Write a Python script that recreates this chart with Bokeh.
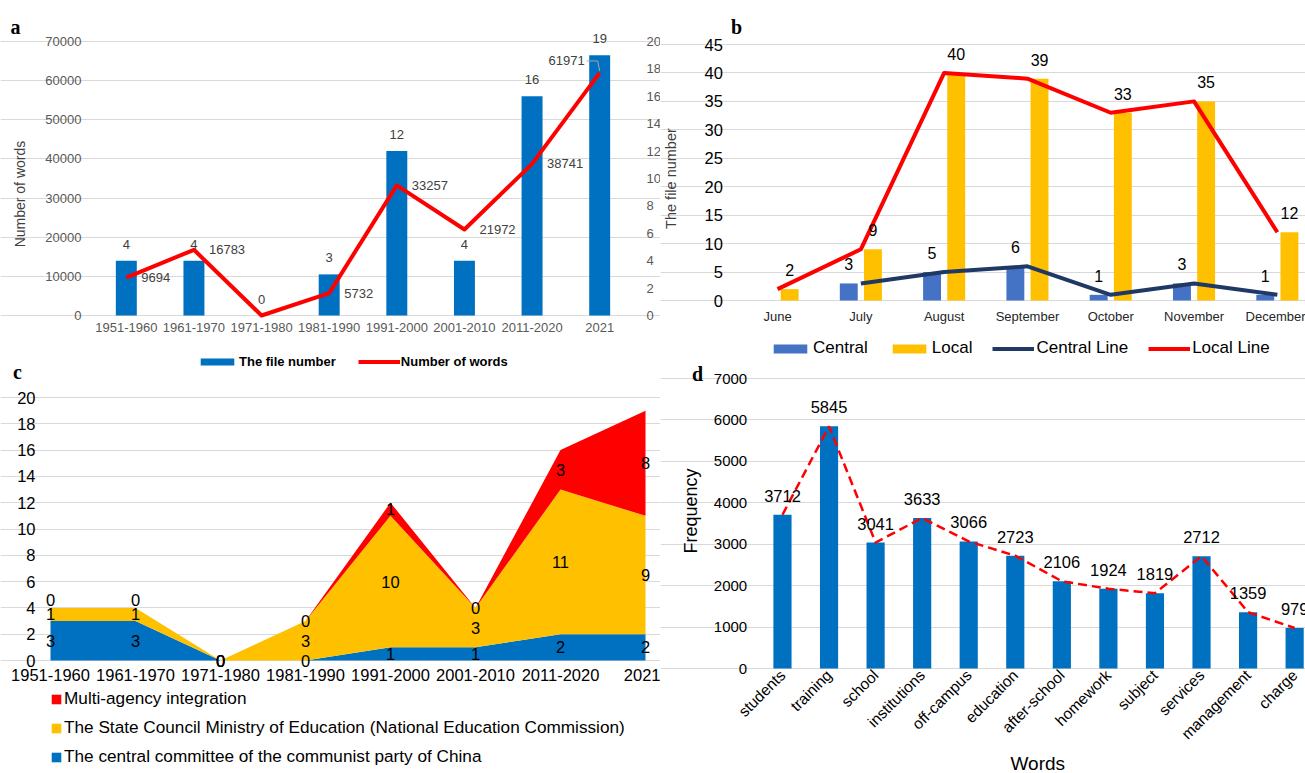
import math

import numpy as np
from bokeh.core.properties import value
from bokeh.embed import file_html
from bokeh.layouts import column, row
from bokeh.models import (ColumnDataSource, FixedTicker, Label, LabelSet, Legend,
                          LegendItem, LinearAxis, Range1d)
from bokeh.plotting import figure
from bokeh.resources import INLINE

# ---------------- data ----------------
decades = ["1951-1960", "1961-1970", "1971-1980", "1981-1990",
           "1991-2000", "2001-2010", "2011-2020", "2021"]
file_numbers = [4, 4, 0, 3, 12, 4, 16, 19]
word_counts = [9694, 16783, 0, 5732, 33257, 21972, 38741, 61971]

months = ["June", "July", "August", "September", "October", "November", "December"]
central_files = [None, 3, 5, 6, 1, 3, 1]
local_files = [2, 9, 40, 39, 33, 35, 12]

issuers = ["The central committee of the communist party of China",
           "The State Council Ministry of Education (National Education Commission)",
           "Multi-agency integration"]
central_committee = [3, 3, 0, 0, 1, 1, 2, 2]
state_council_moe = [1, 1, 0, 3, 10, 3, 11, 9]
multi_agency = [0, 0, 0, 0, 1, 0, 3, 8]

words = ["students", "training", "school", "institutions", "off-campus", "education",
         "after-school", "homework", "subject", "services", "management", "charge"]
frequency = [3712, 5845, 3041, 3633, 3066, 2723, 2106, 1924, 1819, 2712, 1359, 979]

# ---------------- style ----------------
SANS = "Liberation Sans"
SERIF = "Liberation Serif"
GRID = "#D9D9D9"
BLUE = "#0070C0"
RED = "#FF0000"
YELLOW = "#FFC000"
CENTRAL_BLUE = "#4472C4"
NAVY = "#203864"
NBSP = "\u00a0"


def span_x(px1, v1, px2, v2, width):
    """Range covering the full canvas width, from two pixel->value anchors."""
    s = (v2 - v1) / (px2 - px1)
    return Range1d(v1 - px1 * s, v1 + (width - px1) * s)


def span_y(py1, v1, py2, v2, height):
    """Range covering the full canvas height; pixels measured from the top."""
    s = (v2 - v1) / (py1 - py2)
    return Range1d(v1 - (height - py1) * s, v1 + py1 * s)


def new_panel(width, height, x_range, y_range):
    # The plotting frame fills the whole canvas; the axes sit at fixed
    # data positions inside it, so every label stays inside the frame.
    p = figure(width=width, height=height, x_range=x_range, y_range=y_range,
               output_backend="svg", toolbar_location=None,
               min_border_left=0, min_border_right=0, min_border_top=0, min_border_bottom=0)
    p.outline_line_color = None
    return p


def style_axes(p, color, size):
    p.xgrid.grid_line_color = None
    p.ygrid.grid_line_color = GRID
    p.ygrid.grid_line_width = 1
    for ax in p.axis:
        ax.axis_line_color = None
        ax.major_tick_line_color = None
        ax.minor_tick_line_color = None
        ax.major_tick_out = 0
        ax.major_tick_in = 0
        ax.minor_tick_out = 0
        ax.minor_tick_in = 0
        ax.major_label_text_font = SANS
        ax.major_label_text_font_size = size
        ax.major_label_text_color = color
        ax.axis_label_text_font = SANS
        ax.axis_label_text_font_style = "normal"


def panel_letter(p, text, x, y):
    p.add_layout(Label(x=x, y=y, x_units="screen", y_units="screen", text=text,
                       text_font=SERIF, text_font_style="bold", text_font_size="20px",
                       text_align="center", text_baseline="alphabetic", text_color="black"))


def add_legend(p, items, location, size, bold=False, orientation="horizontal",
               glyph_w=42, glyph_h=9, spacing=20, standoff=2):
    leg = Legend(items=items, location=location, orientation=orientation,
                 label_text_font=SANS, label_text_font_size=size,
                 label_text_font_style="bold" if bold else "normal",
                 label_text_color="black", glyph_width=glyph_w, glyph_height=glyph_h,
                 label_standoff=standoff, spacing=spacing, padding=0, margin=0,
                 label_height=20, border_line_color=None, background_fill_alpha=0)
    p.add_layout(leg, "center")
    return leg


# ---------------- panel a: files and words per decade ----------------
W_A, H_A = 660, 384
n_dec = len(decades)
xa = list(range(n_dec))
src_a = ColumnDataSource(dict(x=xa, files=file_numbers, words=word_counts,
                              flab=[str(v) for v in file_numbers]))

pa = new_panel(W_A, H_A, span_x(92, -0.5, 633, n_dec - 0.5, W_A),
               span_y(315, 0, 41, 70000, H_A))
pa.extra_y_ranges = {"files": span_y(315, 0, 41, 20, H_A)}
pa.add_layout(LinearAxis(y_range_name="files", ticker=FixedTicker(ticks=list(range(0, 21, 2)))), "right")
pa.yaxis[0].ticker = FixedTicker(ticks=list(range(0, 70001, 10000)))
pa.xaxis.ticker = FixedTicker(ticks=xa)
pa.xaxis.major_label_overrides = {i: d for i, d in enumerate(decades)}
style_axes(pa, "#595959", "13px")
pa.ygrid.bounds = (-0.5, n_dec - 0.5)
pa.xaxis.fixed_location = 0
pa.xaxis.bounds = (-0.5, n_dec - 0.5)
pa.yaxis[0].fixed_location = -0.5
pa.yaxis[0].bounds = (0, 70000)
pa.yaxis[1].fixed_location = n_dec - 0.5
pa.yaxis[1].bounds = (0, 20)
pa.xaxis.major_label_standoff = 7
pa.yaxis[0].major_label_standoff = 11
pa.yaxis[1].major_label_standoff = 13
pa.yaxis[0].axis_label = "Number of words" + NBSP * 8
pa.yaxis[0].axis_label_text_font_size = "14px"
pa.yaxis[0].axis_label_text_color = "#404040"
pa.yaxis[0].axis_label_standoff = 14

bars_a = pa.vbar(x="x", top="files", width=0.31, source=src_a, y_range_name="files",
                 fill_color=BLUE, line_color=None)
line_a = pa.line(x="x", y="words", source=src_a, line_color=RED, line_width=4,
                 line_join="round")

pa.add_layout(LabelSet(x="x", y="files", text="flab", source=src_a, y_range_name="files",
                       y_offset=12, text_align="center", text_baseline="alphabetic",
                       text_font=value(SANS), text_font_size="13px", text_color="#404040"))

# word-count labels sit right of their points; the zero shares the file label's spot
word_label_side = {"1971-1980": "shared", "2021": "left"}
for i, (dec, v) in enumerate(zip(decades, word_counts)):
    side = word_label_side.get(dec, "right")
    if side == "shared":
        continue
    kw = dict(x=i, y=v, text=str(v), text_font=SANS, text_font_size="13px",
              text_color="#404040")
    if side == "right":
        lab = Label(x_offset=15, text_align="left", text_baseline="middle", **kw)
    else:
        lab = Label(x_offset=-15, y_offset=12, text_align="right", text_baseline="middle", **kw)
    pa.add_layout(lab)

# leader from the last word label down to its point
last = n_dec - 1
y_per_px = 70000 / 274
pa.line(x=[last - 13 / 67.6, last - 2 / 67.6, last],
        y=[word_counts[last] + 12 * y_per_px, word_counts[last] + 12 * y_per_px,
           word_counts[last] + 2 * y_per_px],
        line_color="#A6A6A6", line_width=1)

add_legend(pa, [LegendItem(label="The file number", renderers=[bars_a]),
                LegendItem(label="Number of words", renderers=[line_a])],
           (196, H_A - 371), "13px", bold=True, glyph_w=42, glyph_h=9, spacing=22, standoff=1)
panel_letter(pa, "a", 15, H_A - 26)
panel_letter(pa, "c", 17, H_A - 371)

# ---------------- panel b: monthly central / local files ----------------
W_B, H_B = 645, 360
n_mon = len(months)
xb = list(range(n_mon))
shift = 0.145
cen_idx = [i for i, v in enumerate(central_files) if v is not None]
src_bc = ColumnDataSource(dict(x=[i - shift for i in cen_idx], xc=cen_idx,
                               v=[central_files[i] for i in cen_idx],
                               lab=[str(central_files[i]) for i in cen_idx]))
src_bl = ColumnDataSource(dict(x=[i + shift for i in xb], xc=xb, v=local_files,
                               lab=[str(v) for v in local_files]))

pb = new_panel(W_B, H_B, span_x(75.4, -0.5, 75.4 + 7 * 83.3, 6.5, W_B),
               span_y(300, 0, 44, 45, H_B))
pb.yaxis.ticker = FixedTicker(ticks=list(range(0, 46, 5)))
pb.xaxis.ticker = FixedTicker(ticks=xb)
pb.xaxis.major_label_overrides = {i: m for i, m in enumerate(months)}
style_axes(pb, "black", "16.5px")
pb.ygrid.bounds = (-0.5, n_mon - 0.5)
pb.xaxis.fixed_location = 0
pb.xaxis.bounds = (-0.5, n_mon - 0.5)
pb.yaxis.fixed_location = -0.5
pb.yaxis.bounds = (0, 45)
pb.xaxis.major_label_text_font_size = "13px"
pb.xaxis.major_label_text_color = "#262626"
pb.xaxis.major_label_standoff = 8
pb.yaxis.major_label_standoff = 13
pb.yaxis.axis_label = "The file number" + NBSP * 3
pb.yaxis.axis_label_text_font_size = "14.5px"
pb.yaxis.axis_label_text_color = "#404040"
pb.yaxis.axis_label_standoff = 22

bars_bc = pb.vbar(x="x", top="v", width=0.215, source=src_bc, fill_color=CENTRAL_BLUE, line_color=None)
bars_bl = pb.vbar(x="x", top="v", width=0.215, source=src_bl, fill_color=YELLOW, line_color=None)
line_bc = pb.line(x="xc", y="v", source=src_bc, line_color=NAVY, line_width=4, line_join="round")
line_bl = pb.line(x="xc", y="v", source=src_bl, line_color=RED, line_width=4, line_join="round")
for src in (src_bc, src_bl):
    pb.add_layout(LabelSet(x="x", y="v", text="lab", source=src, y_offset=13,
                           text_align="center", text_baseline="alphabetic",
                           text_font=value(SANS), text_font_size="16px", text_color="black"))

add_legend(pb, [LegendItem(label="Central", renderers=[bars_bc]),
                LegendItem(label="Local", renderers=[bars_bl]),
                LegendItem(label="Central Line", renderers=[line_bc]),
                LegendItem(label="Local Line", renderers=[line_bl])],
           (109, H_B - 358), "17px", glyph_w=42, glyph_h=11, spacing=20, standoff=2)
panel_letter(pb, "b", 76, H_B - 26)

# ---------------- panel c: stacked areas by issuing body ----------------
TOP_C = H_A
W_C, H_C = 660, 773 - H_A
xc = list(range(n_dec))
src_c = ColumnDataSource(dict(x=xc, central=central_committee, state=state_council_moe,
                              multi=multi_agency))

px_per_unit_c = (660 - 397) / 20
pc = new_panel(W_C, H_C, span_x(50, 0, 645, n_dec - 1, W_C),
               span_y(660 - TOP_C, 0, 397 - TOP_C, 20, H_C))
pc.yaxis.ticker = FixedTicker(ticks=list(range(0, 21, 2)))
pc.xaxis.ticker = FixedTicker(ticks=xc)
pc.xaxis.major_label_overrides = {i: d for i, d in enumerate(decades)}
style_axes(pc, "black", "16.5px")
pc.ygrid.bounds = (0, n_dec - 1)
pc.xaxis.fixed_location = 0
pc.xaxis.bounds = (0, n_dec - 1)
pc.yaxis.fixed_location = 0
pc.yaxis.bounds = (0, 20)
pc.xaxis.major_label_standoff = 8
pc.yaxis.major_label_standoff = 15

areas = pc.varea_stack(stackers=["central", "state", "multi"], x="x",
                       color=[BLUE, YELLOW, RED], source=src_c)

# one label per layer, centred in its band; an empty band sitting right on top
# of a thin one gets nudged up so the two numbers do not collide
base = np.zeros(n_dec)
prev_mid = None
prev_vals = None
lab_x, lab_y, lab_t, lab_dy = [], [], [], []
for vals in (central_committee, state_council_moe, multi_agency):
    arr = np.array(vals, dtype=float)
    mid = base + arr / 2
    for i in range(n_dec):
        dy = 0
        if prev_mid is not None and arr[i] == 0 and prev_vals[i] != 0:
            gap = (mid[i] - prev_mid[i]) * px_per_unit_c
            if gap < 10:
                dy = 8
        lab_x.append(xc[i])
        lab_y.append(mid[i])
        lab_t.append(str(vals[i]))
        lab_dy.append(dy)
    prev_mid, prev_vals = mid, arr
    base = base + arr
src_clab = ColumnDataSource(dict(x=lab_x, y=lab_y, t=lab_t, dy=lab_dy))
pc.add_layout(LabelSet(x="x", y="y", text="t", y_offset="dy", source=src_clab,
                       text_align="center", text_baseline="middle", text_font=value(SANS),
                       text_font_size="16.5px", text_color="black"))

add_legend(pc, [LegendItem(label=issuers[2], renderers=[areas[2]]),
                LegendItem(label=issuers[1], renderers=[areas[1]]),
                LegendItem(label=issuers[0], renderers=[areas[0]])],
           (50, 773 - 767), "17.2px", orientation="vertical", glyph_w=12, glyph_h=12,
           spacing=8, standoff=2)

# ---------------- panel d: word frequency ----------------
TOP_D = H_B
W_D, H_D = 645, 773 - H_B
n_w = len(words)
xd = list(range(n_w))
src_d = ColumnDataSource(dict(x=xd, f=frequency, lab=[str(v) for v in frequency]))

pdf = new_panel(W_D, H_D, span_x(98.7, -0.5, 98.7 + 12 * 46.56, 11.5, W_D),
                span_y(668 - TOP_D, 0, 378 - TOP_D, 7000, H_D))
pdf.yaxis.ticker = FixedTicker(ticks=list(range(0, 7001, 1000)))
pdf.xaxis.ticker = FixedTicker(ticks=xd)
pdf.xaxis.major_label_overrides = {i: w for i, w in enumerate(words)}
style_axes(pdf, "black", "15px")
pdf.ygrid.bounds = (-0.5, n_w - 0.5)
pdf.xaxis.fixed_location = 0
pdf.xaxis.bounds = (-0.5, n_w - 0.5)
pdf.yaxis.fixed_location = -0.5
pdf.yaxis.bounds = (0, 7000)
pdf.xaxis.major_label_text_font_size = "15.5px"
pdf.xaxis.major_label_orientation = math.pi / 4
pdf.xaxis.major_label_standoff = 4
pdf.yaxis.major_label_standoff = 12
pdf.yaxis.axis_label = NBSP * 5 + "Frequency"
pdf.yaxis.axis_label_text_font_size = "18px"
pdf.yaxis.axis_label_text_color = "black"
pdf.yaxis.axis_label_standoff = 10
pdf.xaxis.axis_label = NBSP * 2 + "Words"
pdf.xaxis.axis_label_text_font_size = "19px"
pdf.xaxis.axis_label_text_color = "black"
pdf.xaxis.axis_label_standoff = 2

pdf.vbar(x="x", top="f", width=0.39, source=src_d, fill_color=BLUE, line_color=None)
pdf.line(x="x", y="f", source=src_d, line_color=RED, line_width=2.5, line_dash="9 5")
pdf.add_layout(LabelSet(x="x", y="f", text="lab", source=src_d, y_offset=13,
                        text_align="center", text_baseline="alphabetic",
                        text_font=value(SANS), text_font_size="16.5px", text_color="black"))
panel_letter(pdf, "d", 37, 773 - 373)

layout = row(column(pa, pc), column(pb, pdf))

with open("out.html", "w") as fh:
    fh.write(file_html(layout, INLINE))
